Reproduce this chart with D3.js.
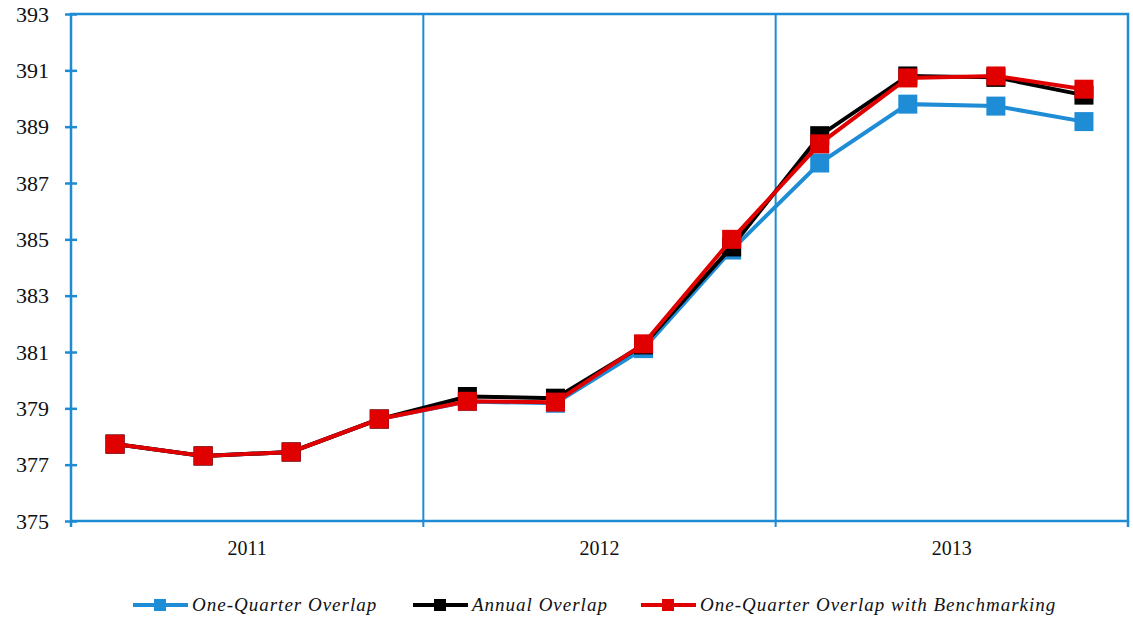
<!DOCTYPE html>
<html>
  <head>
    <meta charset="utf-8">
    <title>overlap</title>
    <style>
    body{margin:0;background:#fff}
    </style>
  </head>
  <body>
    <svg width="1133" height="624"></svg>
    <script src="https://d3js.org/d3.v7.min.js"></script>
    <script>

    var years = ["2011", "2012", "2013"];
    var quarters = ["2011Q1","2011Q2","2011Q3","2011Q4","2012Q1","2012Q2","2012Q3","2012Q4","2013Q1","2013Q2","2013Q3","2013Q4"];
    var oneQuarter = [377.73, 377.31, 377.45, 378.62, 379.24, 379.18, 381.12, 384.62, 387.71, 389.8, 389.73, 389.18];
    var annual = [377.73, 377.31, 377.45, 378.62, 379.42, 379.36, 381.25, 384.73, 388.68, 390.8, 390.75, 390.12];
    var benchmarked = [377.73, 377.31, 377.45, 378.62, 379.25, 379.22, 381.29, 385.0, 388.39, 390.73, 390.8, 390.33];
    var yTicks = [375, 377, 379, 381, 383, 385, 387, 389, 391, 393];
    var seriesNames = ["One-Quarter Overlap", "Annual Overlap", "One-Quarter Overlap with Benchmarking"];

    var axisColor = "#1e8bd3";
    var plotL = 71, plotR = 1128, plotT = 14, plotB = 521;

    var svg = d3.select("svg");

    var x = d3.scaleBand().domain(quarters).range([plotL, plotR]);
    var xYear = d3.scaleBand().domain(years).range([plotL, plotR]);
    var y = d3.scaleLinear().domain([375, 393]).range([plotB, plotT]);

    // frame
    svg.append("rect").attr("x", plotL).attr("y", plotT)
      .attr("width", plotR - plotL).attr("height", plotB - plotT)
      .attr("fill", "none").attr("stroke", axisColor).attr("stroke-width", 2.5);

    // year separators
    svg.selectAll(".sep").data(years.slice(1)).enter().append("line")
      .attr("x1", function(d) { return xYear(d); })
      .attr("x2", function(d) { return xYear(d); })
      .attr("y1", plotT).attr("y2", plotB + 6)
      .attr("stroke", axisColor).attr("stroke-width", 2);

    // y axis
    var yAxis = svg.append("g").attr("transform", "translate(" + plotL + ",0)")
      .call(d3.axisLeft(y).tickValues(yTicks).tickSize(6).tickPadding(16).tickFormat(d3.format("d")));
    yAxis.select(".domain").remove();
    yAxis.selectAll(".tick line").attr("x2", 6).attr("x1", -6)
      .attr("stroke", axisColor).attr("stroke-width", 2.5);
    yAxis.selectAll(".tick text")
      .attr("font-family", "Liberation Serif, serif").attr("font-size", 22).attr("fill", "#111");

    // x axis (years)
    var xAxis = svg.append("g").attr("transform", "translate(0," + plotB + ")")
      .call(d3.axisBottom(xYear).tickSize(0).tickPadding(20));
    xAxis.select(".domain").remove();
    xAxis.selectAll(".tick text")
      .attr("font-family", "Liberation Serif, serif").attr("font-size", 20).attr("fill", "#111");
    svg.append("line").attr("x1", plotL).attr("x2", plotL).attr("y1", plotB).attr("y2", plotB + 6)
      .attr("stroke", axisColor).attr("stroke-width", 2.5);
    svg.append("line").attr("x1", plotR).attr("x2", plotR).attr("y1", plotB).attr("y2", plotB + 6)
      .attr("stroke", axisColor).attr("stroke-width", 2.5);

    var series = [
      {name: seriesNames[0], values: oneQuarter, color: "#1f8dd6"},
      {name: seriesNames[1], values: annual, color: "#000000"},
      {name: seriesNames[2], values: benchmarked, color: "#e00000"}
    ];

    var line = d3.line()
      .x(function(d, i) { return x(quarters[i]) + x.bandwidth() / 2; })
      .y(function(d) { return y(d); });

    var ms = 19;
    series.forEach(function(s) {
      var g = svg.append("g");
      g.append("path").datum(s.values).attr("d", line)
        .attr("fill", "none").attr("stroke", s.color).attr("stroke-width", 4);
      g.selectAll("rect").data(s.values).enter().append("rect")
        .attr("x", function(d, i) { return x(quarters[i]) + x.bandwidth() / 2 - ms / 2; })
        .attr("y", function(d) { return y(d) - ms / 2; })
        .attr("width", ms).attr("height", ms)
        .attr("fill", s.color);
    });

    // legend
    var legendX = [133, 413, 641];
    var leg = svg.append("g").attr("transform", "translate(0,605)");
    series.forEach(function(s, i) {
      var lg = leg.append("g").attr("transform", "translate(" + legendX[i] + ",0)");
      lg.append("line").attr("x1", 0).attr("x2", 55).attr("y1", 0).attr("y2", 0)
        .attr("stroke", s.color).attr("stroke-width", 4);
      lg.append("rect").attr("x", 21).attr("y", -6).attr("width", 12).attr("height", 12).attr("fill", s.color);
      lg.append("text").attr("x", 59).attr("y", 6)
        .attr("font-family", "Liberation Serif, serif").attr("font-style", "italic")
        .attr("font-size", 19).attr("letter-spacing", 1).attr("fill", "#111").text(s.name);
    });

    </script>
  </body>
</html>
